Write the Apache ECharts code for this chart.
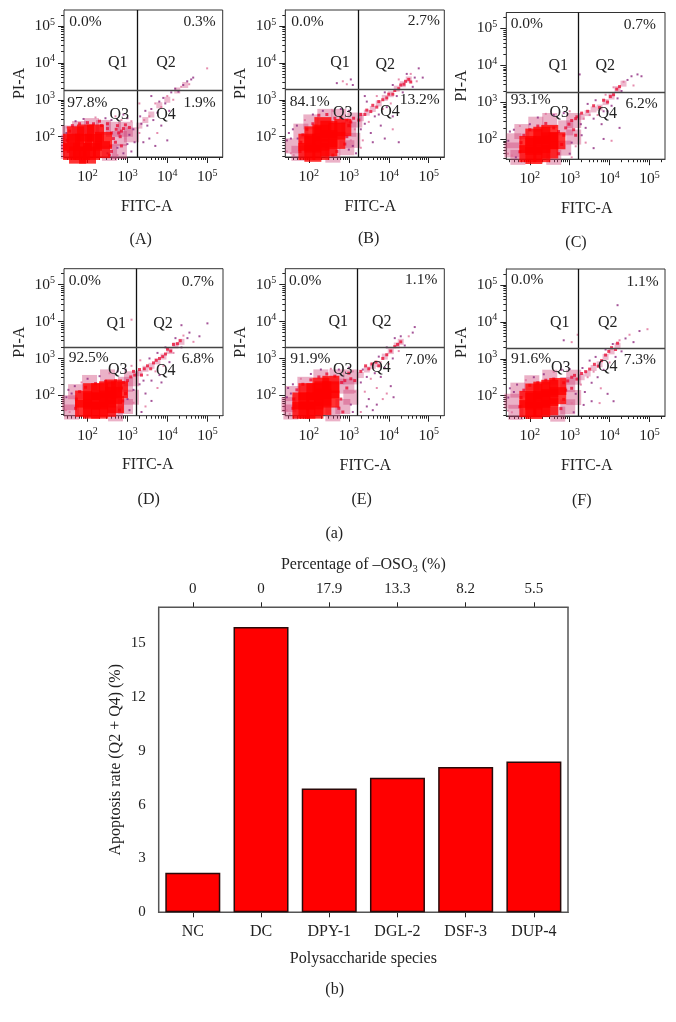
<!DOCTYPE html>
<html><head><meta charset="utf-8">
<script src="https://cdn.jsdelivr.net/npm/echarts@6/dist/echarts.min.js"></script>
<style>html,body{margin:0;padding:0;background:#fff}#c{width:676px;height:1022px}</style></head>
<body><div id="c"></div>
<script>
// ---- Bar chart data
const barCategories = ['NC','DC','DPY-1','DGL-2','DSF-3','DUP-4'];
const barValues = [2.2,15.9,6.9,7.5,8.1,8.4];
const sulfatePercent = ['0','0','17.9','13.3','8.2','5.5'];
// ---- Flow cytometry tick values (log10 units)
const decadeTicks = [2,3,4,5];
const minorDecadeTicks = [1.48,1.6,1.7,1.78,1.85,1.9,1.95,2.3,2.48,2.6,2.7,2.78,2.85,2.9,2.95,3.3,3.48,3.6,3.7,3.78,3.85,3.9,3.95,4.3,4.48,4.6,4.7,4.78,4.85,4.9,4.95,5.3];
const panelNames = ['(A)','(B)','(C)','(D)','(E)','(F)'];
const gateX = [3.24,3.23,3.22,3.215,3.215,3.22];
const gateY = [3.27,3.28,3.27,3.285,3.285,3.285];
const percentQ1 = ['0.0%','0.0%','0.0%','0.0%','0.0%','0.0%'];
const percentQ2 = ['0.3%','2.7%','0.7%','0.7%','1.1%','1.1%'];
const percentQ3 = ['97.8%','84.1%','93.1%','92.5%','91.9%','91.6%'];
const percentQ4 = ['1.9%','13.2%','6.2%','6.8%','7.0%','7.3%'];
// ---- Events: [log10 FITC, log10 PI]
const haloA=[[1.52,1.6],[1.52,1.85],[1.55,2.1],[1.8,2.22],[2.1,2.3],[2.4,2.25],[2.65,2.2],[2.8,1.95],[2.8,1.6],[2.55,1.55],[2.95,2.2],[3.1,2.05]];
const bandA=[[3.3,2.3],[3.45,2.45],[3.6,2.6],[3.8,2.85],[4.0,3.0],[4.25,3.25],[4.45,3.4]];
const coreA=[[1.6,1.6],[1.6,1.85],[1.7,2.05],[1.85,1.6],[1.9,1.85],[1.95,2.1],[2.1,1.6],[2.15,1.85],[2.2,2.1],[2.35,1.65],[2.4,1.9],[1.75,1.5],[2.0,1.5]];
const specksA=[[1.62,2.3],[1.8,2.35],[2.0,2.38],[2.15,2.35],[2.35,2.3],[2.5,2.22],[2.6,2.1],[2.65,1.95],[2.58,1.75],[2.6,1.6],[2.55,1.5],[2.72,2.2],[2.78,2.1],[2.85,2.15],[2.9,2.22],[2.75,2.3],[2.82,2.0],[2.95,2.32],[1.52,1.6],[1.5,1.9],[1.55,2.15],[2.7,1.85],[2.5,2.35],[2.3,2.42],[3.05,2.25],[2.85,1.75]];
const sparseA=[[1.47,1.6],[1.47,1.9],[1.47,2.1],[1.48,2.25],[1.7,2.42],[1.9,2.48],[2.2,2.52],[2.45,2.5],[2.6,2.45],[2.7,2.55],[2.9,2.6],[3.0,2.5],[3.1,2.42],[3.15,2.2],[3.05,2.05],[2.95,1.95],[3.0,1.8],[2.9,1.55],[2.75,1.5],[3.1,1.6],[3.18,1.85],[2.85,2.45],[2.5,1.55],[2.75,1.7],[3.3,2.1],[3.35,2.35],[3.32,2.55],[3.42,2.45],[3.45,2.7],[3.5,2.3],[3.55,2.55],[3.6,2.75],[3.65,2.45],[3.7,2.9],[3.75,2.65],[3.8,2.95],[3.85,2.8],[3.9,3.05],[3.95,2.9],[4.0,3.1],[4.05,2.7],[4.1,3.2],[4.15,3.0],[4.2,3.3],[4.28,3.22],[4.35,3.35],[4.4,3.4],[4.5,3.5],[4.55,3.42],[4.6,3.55],[4.65,3.6],[5.0,3.85],[3.55,1.95],[3.7,1.75],[3.75,2.1],[3.4,1.85],[3.85,2.3],[3.3,2.9],[3.6,3.1],[4.0,1.9]];
const haloB=[[1.6,1.75],[1.75,1.55],[1.8,2.15],[2.05,2.4],[2.4,2.55],[2.75,2.55],[2.95,1.7],[3.0,2.2],[2.6,1.5],[3.1,1.9],[3.15,2.45]];
const bandB=[[3.3,2.5],[3.45,2.65],[3.6,2.75],[3.75,2.9],[3.9,3.05],[4.05,3.15],[4.2,3.3],[4.35,3.42],[4.5,3.55]];
const coreB=[[1.95,1.6],[1.95,1.85],[2.1,1.55],[2.1,1.8],[2.1,2.05],[2.3,1.6],[2.3,1.85],[2.3,2.1],[2.35,2.3],[2.5,1.7],[2.5,1.95],[2.5,2.2],[2.7,1.9],[2.7,2.15],[2.85,2.25]];
const specksB=[[1.78,1.6],[1.8,1.85],[1.85,2.05],[1.95,2.2],[2.1,2.35],[2.25,2.58],[2.45,2.6],[2.65,2.5],[2.8,2.52],[2.95,2.45],[3.0,2.3],[3.05,2.4],[3.12,2.5],[2.95,2.0],[2.9,1.8],[2.7,1.6],[2.6,1.5],[3.25,2.45],[3.3,2.6],[3.4,2.6],[3.45,2.72],[3.55,2.68],[3.6,2.85],[3.7,2.8],[3.75,2.95],[3.85,3.0],[3.95,3.05],[4.0,3.15],[4.1,3.15],[4.15,3.25],[4.25,3.3],[4.3,3.4],[4.38,3.42],[4.42,3.5],[4.5,3.55],[4.55,3.48]];
const sparseB=[[1.45,1.6],[1.45,1.9],[1.5,2.1],[1.55,1.55],[1.55,1.95],[1.6,2.2],[1.62,1.5],[1.7,2.3],[1.72,1.95],[1.9,2.45],[2.1,2.6],[2.35,2.7],[2.6,2.7],[2.8,2.75],[3.0,2.7],[3.05,1.9],[3.0,1.65],[3.1,1.75],[3.15,2.2],[3.18,1.55],[3.3,2.2],[3.35,1.9],[3.4,2.35],[3.45,2.95],[3.5,2.4],[3.55,2.1],[3.65,2.55],[3.7,3.1],[3.75,2.6],[3.8,2.3],[3.85,2.75],[3.9,3.2],[3.95,2.8],[4.05,2.9],[4.1,3.4],[4.2,3.1],[4.25,3.55],[4.35,3.2],[4.45,3.7],[4.55,3.7],[4.6,3.35],[4.65,3.6],[4.7,3.5],[4.75,3.85],[4.85,3.6],[3.3,1.7],[3.6,1.85],[3.9,1.95],[4.1,2.2],[4.25,1.85],[2.7,3.45],[2.85,3.5],[3.05,3.55],[3.1,3.4],[2.95,3.42],[4.1,2.55],[3.4,3.1]];
const haloC=[[1.55,1.7],[1.6,1.95],[1.7,1.5],[1.8,2.2],[2.15,2.4],[2.5,2.5],[2.85,1.75],[2.9,2.3],[3.1,2.5],[2.6,1.5],[3.1,2.05]];
const bandC=[[3.3,2.6],[3.45,2.7],[3.6,2.8],[3.75,2.85],[3.9,3.0],[4.05,3.15],[4.2,3.35],[4.35,3.5]];
const coreC=[[1.95,1.6],[1.95,1.85],[2.1,1.55],[2.1,1.8],[2.1,2.05],[2.3,1.6],[2.3,1.85],[2.3,2.1],[2.5,1.7],[2.5,1.95],[2.5,2.15],[2.68,1.95]];
const specksC=[[1.75,1.65],[1.78,1.9],[1.85,2.1],[2.0,2.25],[2.2,2.35],[2.4,2.42],[2.6,2.3],[2.72,2.2],[2.85,2.1],[2.9,2.3],[2.98,2.4],[3.05,2.5],[3.15,2.55],[3.18,2.6],[2.8,1.85],[2.72,1.6],[3.1,2.25],[3.15,2.1],[3.3,2.7],[3.45,2.75],[3.6,2.9],[3.75,2.85],[3.85,3.05],[3.95,3.0],[4.02,3.15],[4.1,3.2],[4.18,3.35],[4.25,3.42]];
const sparseC=[[1.45,1.6],[1.46,1.95],[1.5,2.2],[1.55,1.55],[1.6,2.25],[1.65,1.5],[1.75,2.35],[2.0,2.4],[2.2,2.58],[2.4,2.68],[2.6,2.65],[2.85,2.7],[3.0,2.75],[3.05,1.9],[3.0,1.6],[3.15,1.8],[3.3,2.1],[3.28,2.4],[3.35,2.55],[3.4,2.3],[3.45,2.95],[3.5,2.65],[3.6,2.55],[3.65,3.05],[3.7,2.65],[3.8,2.4],[3.85,2.75],[3.9,3.2],[3.95,2.75],[4.05,2.9],[4.1,3.4],[4.2,3.1],[4.3,3.3],[4.35,3.55],[4.45,3.6],[4.55,3.7],[4.6,3.45],[4.7,3.75],[4.8,3.7],[3.4,1.9],[3.6,1.75],[3.85,2.0],[4.05,1.95],[4.25,2.3],[3.25,3.75],[3.05,1.5]];
const haloD=[[1.55,1.8],[1.6,1.55],[1.7,2.1],[2.05,2.35],[2.5,2.5],[2.95,1.7],[2.95,2.3],[3.1,2.45],[2.7,1.5],[3.1,1.95]];
const bandD=[[3.3,2.6],[3.45,2.72],[3.6,2.8],[3.75,2.92],[3.9,3.05],[4.05,3.2],[4.2,3.35],[4.35,3.45]];
const coreD=[[1.9,1.65],[1.9,1.9],[2.1,1.6],[2.1,1.85],[2.1,2.1],[2.3,1.6],[2.3,1.85],[2.3,2.1],[2.5,1.65],[2.5,1.9],[2.5,2.15],[2.65,2.0],[2.65,2.2],[2.7,1.75],[2.8,2.15]];
const specksD=[[1.7,1.65],[1.72,1.9],[1.8,2.1],[1.95,2.22],[2.2,2.32],[2.45,2.38],[2.7,2.4],[2.85,2.2],[2.9,2.35],[3.0,2.4],[3.08,2.5],[3.15,2.65],[3.18,2.55],[2.88,1.85],[2.8,1.6],[2.95,2.05],[3.3,2.7],[3.35,2.55],[3.42,2.72],[3.5,2.8],[3.58,2.72],[3.65,2.88],[3.72,2.95],[3.8,3.0],[3.88,3.05],[3.95,3.12],[4.0,3.25],[4.08,3.2],[4.15,3.38],[4.25,3.4],[4.32,3.48]];
const sparseD=[[1.46,1.6],[1.47,1.95],[1.52,2.15],[1.55,1.55],[1.6,2.05],[1.68,2.25],[1.85,2.35],[2.0,2.45],[2.3,2.52],[2.55,2.6],[2.75,2.65],[2.95,2.7],[3.1,2.8],[3.0,1.9],[3.05,1.6],[3.15,1.8],[3.15,2.15],[3.3,2.3],[3.32,2.95],[3.4,2.4],[3.45,2.05],[3.5,2.55],[3.55,3.0],[3.6,2.4],[3.7,2.65],[3.75,3.15],[3.8,2.55],[3.9,2.8],[3.95,3.3],[4.05,2.9],[4.15,3.15],[4.2,3.55],[4.35,3.3],[4.4,3.62],[4.5,3.55],[4.55,3.7],[4.65,3.45],[4.8,3.6],[5.0,3.95],[3.45,1.7],[3.6,1.85],[3.35,1.55],[3.75,2.2],[3.85,2.35],[4.35,3.9],[3.1,4.05]];
const haloE=[[1.5,1.75],[1.55,1.55],[1.6,2.05],[1.9,2.3],[2.3,2.5],[2.7,2.5],[2.85,1.7],[2.95,2.25],[3.05,2.5],[2.6,1.5],[3.05,1.95]];
const bandE=[[3.3,2.55],[3.45,2.7],[3.6,2.8],[3.75,2.85],[3.9,3.05],[4.05,3.2],[4.2,3.35],[4.3,3.45]];
const coreE=[[1.8,1.6],[1.8,1.85],[1.95,1.6],[1.95,1.85],[1.95,2.1],[2.15,1.6],[2.15,1.85],[2.15,2.1],[2.3,2.25],[2.35,1.7],[2.35,1.95],[2.35,2.15],[2.55,1.9],[2.55,2.15],[2.55,2.3]];
const specksE=[[1.6,1.65],[1.62,1.9],[1.7,2.15],[1.85,2.3],[2.05,2.42],[2.25,2.5],[2.45,2.58],[2.65,2.52],[2.82,2.35],[2.9,2.4],[2.95,2.2],[3.05,2.45],[3.0,2.6],[2.8,1.9],[2.75,1.65],[2.85,1.55],[3.15,2.4],[3.3,2.65],[3.42,2.8],[3.5,2.72],[3.58,2.85],[3.68,2.9],[3.75,2.8],[3.85,3.0],[3.95,3.1],[4.05,3.2],[4.15,3.32],[4.22,3.38],[4.3,3.45]];
const sparseE=[[1.45,1.6],[1.45,1.95],[1.48,2.2],[1.52,1.5],[1.55,2.05],[1.6,2.3],[1.8,2.45],[2.05,2.58],[2.3,2.7],[2.55,2.72],[2.75,2.7],[3.0,2.75],[3.1,2.65],[3.05,1.75],[3.1,1.55],[3.15,2.1],[3.3,2.35],[3.35,2.7],[3.4,2.1],[3.45,2.5],[3.5,1.9],[3.55,2.45],[3.6,1.6],[3.65,2.6],[3.7,2.2],[3.75,3.05],[3.8,2.5],[3.85,1.9],[3.9,2.75],[3.95,3.3],[4.0,2.85],[4.1,3.0],[4.15,3.55],[4.25,3.2],[4.3,3.6],[4.4,3.35],[4.5,3.6],[4.6,3.7],[4.65,3.85],[3.3,1.55],[3.45,1.7],[3.7,1.75],[3.95,2.05],[4.05,2.25],[4.12,1.95]];
const haloF=[[1.55,1.85],[1.65,1.55],[1.7,2.15],[2.05,2.35],[2.5,2.5],[2.95,1.7],[2.95,2.3],[3.1,2.5],[2.7,1.5],[3.1,1.95]];
const bandF=[[3.3,2.5],[3.45,2.6],[3.6,2.75],[3.75,2.85],[3.9,3.05],[4.05,3.2],[4.2,3.35]];
const coreF=[[1.95,1.65],[1.95,1.9],[2.1,1.6],[2.1,1.85],[2.1,2.1],[2.3,1.65],[2.3,1.9],[2.3,2.15],[2.5,1.7],[2.5,1.95],[2.5,2.2],[2.7,2.0],[2.7,2.25]];
const specksF=[[1.75,1.7],[1.78,1.95],[1.85,2.15],[2.0,2.28],[2.2,2.35],[2.4,2.42],[2.6,2.45],[2.85,2.35],[2.9,2.15],[2.95,2.4],[3.05,2.5],[3.12,2.55],[3.18,2.45],[2.85,1.9],[2.78,1.65],[3.05,2.2],[3.3,2.6],[3.4,2.65],[3.5,2.72],[3.62,2.85],[3.72,2.8],[3.8,2.95],[3.9,3.1],[3.98,3.2],[4.05,3.3],[4.15,3.25],[4.2,3.42]];
const sparseF=[[1.45,1.6],[1.46,1.95],[1.5,2.2],[1.55,1.55],[1.6,2.1],[1.68,2.3],[1.9,2.42],[2.1,2.5],[2.35,2.58],[2.6,2.65],[2.8,2.7],[3.0,2.72],[3.05,1.8],[3.1,1.55],[3.15,2.05],[3.28,2.3],[3.32,2.75],[3.38,2.1],[3.45,2.5],[3.5,2.95],[3.55,2.35],[3.6,2.65],[3.65,3.05],[3.7,2.5],[3.78,2.2],[3.85,2.7],[3.9,3.25],[4.0,2.9],[4.08,3.4],[4.15,3.05],[4.25,3.5],[4.3,3.2],[4.4,3.55],[4.5,3.65],[4.6,3.45],[4.75,3.75],[4.95,3.8],[3.35,1.75],[3.55,1.85],[3.75,1.8],[3.95,2.05],[4.1,1.85],[3.2,3.65],[4.2,4.45],[2.85,3.5],[3.05,3.45]];
const haloSets=[haloA,haloB,haloC,haloD,haloE,haloF];
const bandSets=[bandA,bandB,bandC,bandD,bandE,bandF];
const coreSets=[coreA,coreB,coreC,coreD,coreE,coreF];
const speckSets=[specksA,specksB,specksC,specksD,specksE,specksF];
const sparseSets=[sparseA,sparseB,sparseC,sparseD,sparseE,sparseF];

// ---- Layout (pixels)
const FONT='"Liberation Serif",serif', INK='#222';
const boxes=[[64,10,158.7,147],[285.3,10,159,147],[506.3,12.5,158.7,146.7],[64,268.7,159,147],[285.3,268.7,159,147],[506.3,269,158.7,147]];
const qPos=[
 {q1:[69.3,21.7],q2:[215.7,21.7],q3:[67.3,103.3],q4:[215.7,103.3],Q1:[117.7,63],Q2:[166,63],Q3:[119.3,115],Q4:[166,115]},
 {q1:[291.3,22],q2:[440,21],q3:[289.7,102],q4:[439.7,100],Q1:[340,63],Q2:[385.3,65],Q3:[342.7,113],Q4:[390,112]},
 {q1:[510.7,24],q2:[656,25],q3:[510.7,100],q4:[657.7,104],Q1:[558.3,66],Q2:[605.3,66],Q3:[559.3,113],Q4:[607.3,114]},
 {q1:[68.7,281],q2:[214,281.7],q3:[68.7,358],q4:[214,359],Q1:[116.3,324],Q2:[163,324],Q3:[117.7,370],Q4:[165.7,371]},
 {q1:[289,281],q2:[437.3,280],q3:[290.3,359],q4:[437.3,360],Q1:[338.3,322],Q2:[381.7,322],Q3:[342.7,370],Q4:[381,368]},
 {q1:[511,280],q2:[658.7,282],q3:[511,359],q4:[656,360],Q1:[559.7,323],Q2:[607.7,323],Q3:[560.7,368],Q4:[607.7,367]}];
const piLabelX=[19.7,240.7,461.7,20,240.7,461.7];
const fitcLabel=[[146.7,206.7],[370.3,206.7],[586.7,209],[147.7,464.3],[365.3,465.7],[586.7,465.7]];
const capPos=[[140.7,239.3],[368.7,239],[576,243],[148.7,499.3],[361.7,499.3],[581.7,501]];

const grids=[],xAxes=[],yAxes=[],series=[],graphic=[];
const text=(t,x,y,align,opts,size)=>graphic.push(Object.assign({type:'text',x,y,silent:true,z:50,
  style:{text:t,font:(size||16)+'px '+FONT,fill:INK,align:align||'center',verticalAlign:'middle'}},opts||{}));
const tickRich={a:{fontSize:15.5,fontFamily:FONT,color:INK},b:{fontSize:10,fontFamily:FONT,color:INK,padding:[0,0,8,0]}};
const supFmt=v=>'{a|10}{b|'+v+'}';
const range={x:[1.41,5.39],y:[1.45,5.43]};

boxes.forEach((b,i)=>{
  grids.push({left:b[0],top:b[1],width:b[2],height:b[3],show:true,borderColor:'#333',borderWidth:1,backgroundColor:'#fff',z:1});
  const xi=xAxes.length, yi=yAxes.length;
  xAxes.push({gridIndex:i,type:'value',position:'bottom',min:range.x[0],max:range.x[1],splitLine:{show:false},
    axisLine:{show:true,onZero:false,lineStyle:{color:'#222'}},axisTick:{length:6,customValues:decadeTicks,lineStyle:{color:'#222'}},
    axisLabel:{customValues:decadeTicks,formatter:supFmt,rich:tickRich,margin:11,hideOverlap:false,showMinLabel:true,showMaxLabel:true}});
  xAxes.push({gridIndex:i,type:'value',position:'bottom',min:range.x[0],max:range.x[1],splitLine:{show:false},
    axisLine:{show:false,onZero:false},axisTick:{length:3,customValues:minorDecadeTicks,lineStyle:{color:'#222'}},axisLabel:{show:false}});
  yAxes.push({gridIndex:i,type:'value',position:'left',min:range.y[0],max:range.y[1],splitLine:{show:false},
    axisLine:{show:true,onZero:false,lineStyle:{color:'#222'}},axisTick:{length:6,customValues:decadeTicks,lineStyle:{color:'#222'}},
    axisLabel:{customValues:decadeTicks,formatter:supFmt,rich:tickRich,margin:9,hideOverlap:false,showMinLabel:true,showMaxLabel:true}});
  yAxes.push({gridIndex:i,type:'value',position:'left',min:range.y[0],max:range.y[1],splitLine:{show:false},
    axisLine:{show:false,onZero:false},axisTick:{length:3,customValues:minorDecadeTicks,lineStyle:{color:'#222'}},axisLabel:{show:false}});
  const layer=(name,data,size,symbol,style,z)=>series.push({type:'scatter',name,xAxisIndex:xi,yAxisIndex:yi,data,symbol,symbolSize:size,
    silent:true,clip:true,animation:false,z,itemStyle:style});
  layer('halo',haloSets[i],15,'rect',{color:'rgba(205,60,115,0.5)'},2);
  layer('band',bandSets[i],6,'rect',{color:'rgba(205,60,120,0.45)'},2);
  layer('sparse',sparseSets[i],2,'rect',{color:(p)=>p.dataIndex%3===0?'#e0709a':'#8e2a80'},3);
  layer('specks',speckSets[i],3,'rect',{color:'#e81238'},4);
  layer('core',coreSets[i],17,'rect',{color:'#ff0000'},5);
  series.push({type:'line',name:'gates',xAxisIndex:xi,yAxisIndex:yi,data:[],silent:true,z:6,animation:false,
    markLine:{silent:true,symbol:'none',animation:false,label:{show:false},
      data:[{xAxis:gateX[i],lineStyle:{color:'#111',width:1.3,type:'solid'}},{yAxis:gateY[i],lineStyle:{color:'#444',width:1.3,type:'solid'}}]}});
  const q=qPos[i];
  text(percentQ1[i],q.q1[0],q.q1[1],'left',null,15.5);
  text(percentQ2[i],q.q2[0],q.q2[1],'right',null,15.5);
  text(percentQ3[i],q.q3[0],q.q3[1],'left',null,15.5);
  text(percentQ4[i],q.q4[0],q.q4[1],'right',null,15.5);
  ['Q1','Q2','Q3','Q4'].forEach(k=>text(k,q[k][0],q[k][1]));
  text('FITC-A',fitcLabel[i][0],fitcLabel[i][1]);
  text('PI-A',piLabelX[i],b[1]+b[3]/2,'center',{rotation:Math.PI/2});
  text(panelNames[i],capPos[i][0],capPos[i][1]);
});
text('(a)',334.3,533.3);
text('(b)',334.7,989.3);

// ---- Bar panel
const bi=grids.length, bx=xAxes.length, by=yAxes.length;
grids.push({left:158.7,top:607.3,width:409.3,height:305,show:true,borderColor:'#555',borderWidth:1.5,z:1});
const catAxisBase={gridIndex:bi,type:'category',splitLine:{show:false},axisTick:{show:true,length:5,alignWithLabel:true,interval:0,lineStyle:{color:'#222'}}};
xAxes.push(Object.assign({},catAxisBase,{position:'bottom',data:barCategories,axisLine:{show:true,onZero:false,lineStyle:{color:'#111'}},
  axisLabel:{fontFamily:FONT,fontSize:16,color:INK,margin:11,interval:0},
  name:'Polysaccharide species',nameLocation:'middle',nameGap:38,nameTextStyle:{fontFamily:FONT,fontSize:16,color:INK}}));
xAxes.push(Object.assign({},catAxisBase,{position:'top',data:sulfatePercent,axisLine:{show:true,onZero:false,lineStyle:{color:'#333'}},
  axisLabel:{fontFamily:FONT,fontSize:15,color:INK,margin:11,interval:0},
  name:'Percentage of –OSO{s|3} (%)',nameLocation:'middle',nameGap:33,
  nameTextStyle:{fontFamily:FONT,fontSize:16,color:INK,rich:{s:{fontFamily:FONT,fontSize:10.5,color:INK,padding:[8,0,0,0]}}}}));
yAxes.push({gridIndex:bi,type:'value',position:'left',min:0,max:17,splitLine:{show:false},
  axisLine:{show:true,onZero:false,lineStyle:{color:'#222'}},
  axisTick:{length:6,customValues:[0,3,6,9,12,15],lineStyle:{color:'#222'}},
  axisLabel:{customValues:[0,3,6,9,12,15],fontFamily:FONT,fontSize:15,color:INK,margin:13},
  name:'Apoptosis rate (Q2 + Q4) (%)',nameLocation:'middle',nameGap:35,nameMoveOverlap:false,nameTextStyle:{fontFamily:FONT,fontSize:16,color:INK}});
yAxes.push({gridIndex:bi,type:'value',position:'left',min:0,max:17,splitLine:{show:false},axisLine:{show:false,onZero:false},
  axisTick:{length:3,customValues:[1,2,4,5,7,8,10,11,13,14,16],lineStyle:{color:'#222'}},axisLabel:{show:false}});
series.push({type:'bar',name:'Apoptosis rate',xAxisIndex:bx,yAxisIndex:by,data:barValues,barWidth:55,silent:true,animation:false,z:3,
  itemStyle:{color:'#ff0000',borderColor:'#2a0a0a',borderWidth:1.5}});

const chart=echarts.init(document.getElementById('c'),null,{renderer:'canvas'});
chart.setOption({animation:false,backgroundColor:'#fff',grid:grids,xAxis:xAxes,yAxis:yAxes,series,graphic:{elements:graphic}});
</script></body></html>
